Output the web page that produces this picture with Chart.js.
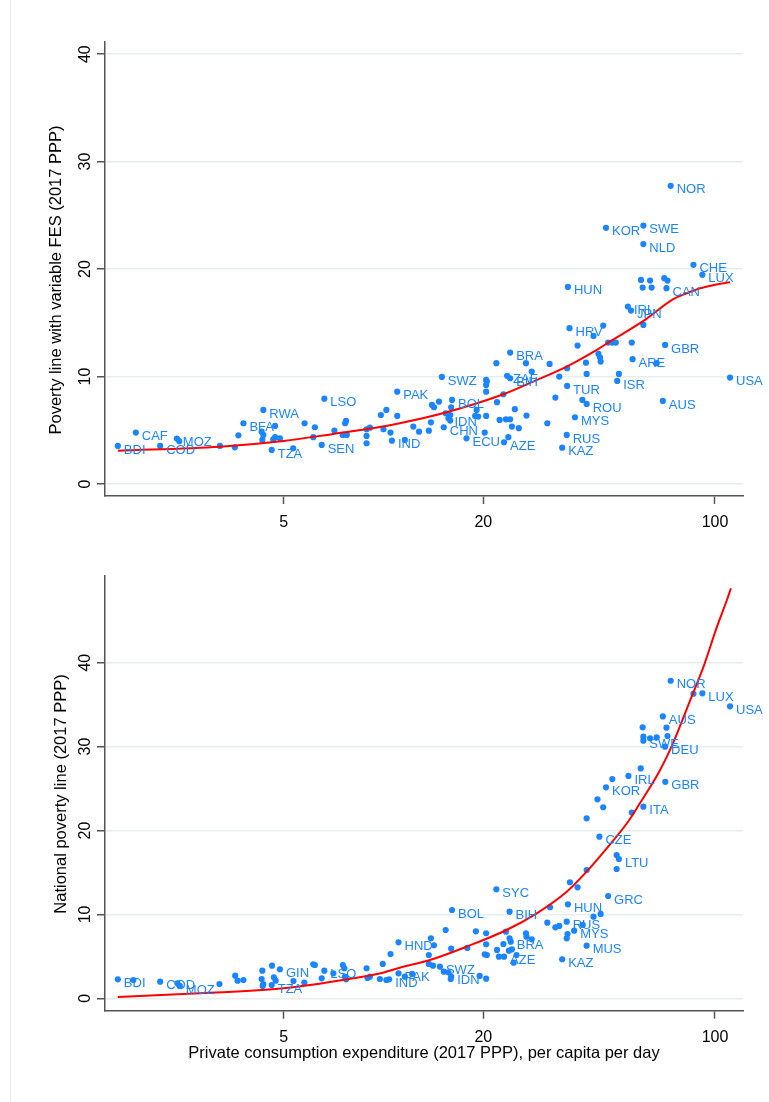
<!DOCTYPE html>
<html><head><meta charset="utf-8">
<script src="https://cdn.jsdelivr.net/npm/chart.js@4.4.1/dist/chart.umd.min.js"></script>
<style>
html,body{margin:0;padding:0;background:#fff;}
#wrap{position:relative;width:769px;height:1102px;overflow:hidden;background:#fff;}
#c1{position:absolute;left:0;top:0;}
#c2{position:absolute;left:0;top:550px;}
#edge{position:absolute;left:10px;top:0;width:1px;height:1102px;background:#ececec;}
</style></head><body>
<div id="wrap"><div id="edge"></div>
<canvas id="c1" width="769" height="550"></canvas>
<canvas id="c2" width="769" height="552"></canvas>
</div>
<script>
// ---- tick labels ----
const xTicks = [5, 20, 100];
const yTicks = [0, 10, 20, 30, 40];

// ---- top panel: poverty line with variable FES ----
const topCodes = ['BDI','CAF','COD','MOZ','','','','','BFA','RWA','','','','','','','','TZA','','','','','SEN','LSO','','','','','','','','','','','','','','IND','PAK','','','','','','','','','','CHN','','','IDN','','BOL','','SWZ','','','','','ECU','','','','','','','','','','','','ZAF','BIH','BRA','','','','AZE','','','','','','','','','','TUR','RUS','KAZ','HRV','MYS','','','ROU','','','','','','','','','','','ISR','','','ARE','','','GBR','AUS','USA','IRL','JPN','NOR','KOR','SWE','NLD','CHE','LUX','','','','','','','CAN','HUN'];
const topX = [1.58,1.79,2.12,2.38,2.42,3.21,3.56,3.65,3.78,4.34,4.29,4.34,4.31,4.71,4.65,4.71,4.87,4.60,5.34,5.78,6.21,6.14,6.51,6.63,7.11,7.53,7.75,7.66,7.71,8.89,9.10,8.89,8.89,9.82,10.2,10.0,10.5,10.6,11.0,11.0,11.6,12.3,12.8,13.7,13.9,14.0,14.2,14.7,15.2,15.4,15.9,15.7,15.9,16.1,16.0,15.0,19.1,18.9,19.3,20.4,17.8,20.2,20.4,20.5,20.4,20.4,21.9,22.0,22.4,23.0,23.4,24.1,23.6,24.1,24.1,24.4,24.9,23.8,23.1,25.6,26.9,27.0,28.0,31.2,31.7,33.0,33.9,35.8,35.8,35.7,34.6,36.4,37.8,38.5,39.8,41.0,40.8,41.0,43.0,44.5,45.0,45.2,46.0,47.6,49.0,50.2,50.7,51.3,56.1,56.4,60.8,66.7,70.7,69.6,111,54.6,55.8,73.5,46.9,60.8,60.8,86.1,91.6,59.8,63.7,60.5,64.4,70.3,71.9,71.4,36.0];
const topY = [3.54,4.78,3.54,4.22,3.98,3.54,3.41,4.53,5.65,6.89,4.87,4.56,4.10,5.40,4.16,4.35,4.25,3.17,3.32,5.65,5.28,4.35,3.63,7.94,4.96,4.56,4.56,5.65,5.87,5.09,5.24,4.47,3.79,6.42,6.89,5.09,4.78,4.03,8.59,6.33,4.10,5.34,4.87,4.96,5.74,7.36,7.14,7.66,5.28,6.58,6.42,6.12,5.90,7.82,7.14,9.96,6.89,6.33,6.27,6.33,4.25,4.78,9.68,9.53,9.22,8.59,11.24,7.61,5.96,8.35,6.02,6.02,10.06,9.84,12.23,5.34,6.96,4.35,3.88,5.19,11.24,6.36,10.46,5.65,11.17,8.04,9.99,10.77,9.12,4.56,3.38,14.5,6.21,12.88,7.82,7.45,11.29,10.24,13.78,12.10,11.76,11.39,14.74,13.16,13.16,13.16,9.59,10.24,13.16,11.61,14.80,11.24,12.94,7.73,9.90,16.51,16.14,27.75,23.84,24.05,22.32,20.39,19.46,18.99,18.93,18.28,18.28,19.15,18.93,18.22,18.34];
const topFitX = [1.58,3.21,5.0,7.06,9.76,11.2,15.1,23.0,28.3,35.7,44.0,48.2,61.5,74.8,82.2,90.2,100.0,111];
const topFitY = [3.10,3.47,4.00,4.66,5.30,5.65,6.58,8.35,9.53,10.92,12.48,13.25,15.27,17.20,17.75,18.22,18.53,18.78];

// ---- bottom panel: national poverty line ----
const botCodes = ['BDI','','COD','','MOZ','','','','','','','GIN','','','','','','TZA','','','','','','LSO','','','','','','','','','','IND','','','','HND','PAK','','','','','','','','','SWZ','','','IDN','','','BOL','','','','','','','','','SYC','BIH','','','','','AZE','','BRA','','','','','','','','','','','','HUN','','','','RUS','','','MYS','','','','MUS','KAZ','GRC','CZE','','LTU','','','NOR','','LUX','USA','AUS','','','','SWE','','','','DEU','','IRL','','KOR','GBR','ITA','','',''];
const botX = [1.58,1.76,2.12,2.39,2.43,3.20,3.57,3.63,3.78,4.31,4.61,4.87,4.29,4.34,4.32,4.67,4.73,4.60,5.35,5.77,6.14,6.21,6.51,6.63,7.06,7.54,7.62,7.65,7.71,8.89,8.95,9.10,9.75,10.4,10.2,9.95,10.5,11.1,11.1,11.6,12.2,13.7,13.7,14.1,13.9,14.2,15.4,14.8,15.2,15.7,16.0,15.95,16.0,16.1,17.9,19.0,19.5,20.4,20.4,20.4,20.2,20.5,21.9,24.0,22.0,23.0,23.4,22.3,23.1,24.0,24.2,24.4,23.9,26.9,27.0,28.0,24.7,25.2,31.8,31.2,33.0,33.9,36.0,36.5,38.5,41.0,35.7,35.9,35.7,37.6,39.9,43.0,45.2,41.0,34.6,47.6,44.8,50.5,51.3,50.5,41.0,73.5,86.1,91.6,111,69.6,60.5,71.4,60.8,60.8,63.7,66.7,71.9,70.7,59.7,54.8,49.0,46.9,70.8,60.8,56.1,44.2,46.0];
const botY = [2.26,2.18,1.98,1.79,1.47,1.70,2.69,2.10,2.18,3.29,3.89,3.46,2.30,1.70,1.47,2.50,2.10,1.58,2.06,1.86,4.05,3.97,2.38,3.29,2.98,3.97,3.58,2.57,2.26,3.58,2.42,2.57,2.30,2.26,2.18,4.09,5.28,6.67,2.98,2.57,2.90,5.16,4.09,3.89,7.15,6.32,8.14,3.77,3.17,3.10,2.58,2.30,5.91,10.52,6.00,7.98,2.66,2.34,7.75,6.44,5.24,5.16,12.99,10.32,5.76,6.47,7.94,4.96,4.96,7.15,6.75,5.84,5.67,7.75,7.34,7.03,4.24,5.16,10.85,9.01,8.46,8.62,11.2,13.83,13.23,15.29,9.13,7.66,7.15,8.06,8.74,9.73,10.05,6.27,4.65,12.19,19.26,17.08,16.6,15.41,21.45,37.85,36.3,36.35,34.8,33.6,32.3,32.25,31.18,30.7,30.99,31.1,31.26,29.99,27.4,26.5,26.14,25.15,25.8,22.84,22.13,23.72,22.77];
const botFitX = [1.58,2.79,5.0,8.89,9.74,11.2,13.8,17.8,23.5,29.0,35.7,41.0,47.2,54.8,59.5,68.3,74.9,84.2,92.3,101.4,108.7,111.7];
const botFitY = [0.15,0.60,1.19,2.65,2.95,3.65,4.56,6.15,8.14,10.13,12.7,15.1,17.9,21.1,23.3,27.2,30.5,35.55,39.5,44.3,47.5,48.87];

// ---- styling ----
const BLUE = '#1a85ff';
const AX = '#555555';
const GRID = 'rgb(229,237,240)';
const FONT = '"Liberation Sans", Arial, Helvetica, sans-serif';
const XMIN = 1.4451, XMAX = 121.47;

function textPlugin(cfg){
  return {id:'txt', afterDraw(chart){
    const ctx = chart.ctx, xs = chart.scales.x, ys = chart.scales.y;
    ctx.save();
    const meta = chart.getDatasetMeta(1);
    ctx.fillStyle = BLUE; ctx.font = '13px ' + FONT;
    ctx.textAlign = 'left'; ctx.textBaseline = 'alphabetic';
    meta.data.forEach((el, i) => { const c = cfg.codes[i]; if (c) ctx.fillText(c, el.x + 6, el.y + 7.6); });
    ctx.fillStyle = '#000'; ctx.font = '16px ' + FONT; ctx.textAlign = 'center';
    yTicks.forEach(v => {
      const py = ys.getPixelForValue(v);
      ctx.save(); ctx.translate(89.5, py); ctx.rotate(-Math.PI/2); ctx.fillText(String(v), 0, 0); ctx.restore();
    });
    xTicks.forEach(v => ctx.fillText(String(v), xs.getPixelForValue(v), cfg.xTickBase));
    ctx.font = '16.5px ' + FONT;
    ctx.save(); ctx.translate(cfg.yTitleX, cfg.yTitleY); ctx.rotate(-Math.PI/2); ctx.fillText(cfg.yTitle, 0, 0); ctx.restore();
    if (cfg.xTitle) ctx.fillText(cfg.xTitle, (xs.left + xs.right)/2, cfg.xTitleBase);
    ctx.restore();
  }};
}

function makeChart(id, cfg){
  const pts = cfg.xs.map((x, i) => ({x: x, y: cfg.ys[i]}));
  const fit = cfg.fx.map((x, i) => ({x: x, y: cfg.fy[i]}));
  return new Chart(document.getElementById(id), {
    type: 'scatter',
    data: {datasets: [
      {type: 'line', data: fit, borderColor: '#ff0000', borderWidth: 2, pointRadius: 0, showLine: true,
       cubicInterpolationMode: 'monotone', fill: false, order: 0},
      {data: pts, backgroundColor: BLUE, borderColor: BLUE, borderWidth: 0, pointRadius: 3.1, pointHoverRadius: 3.1, order: 1}
    ]},
    options: {
      responsive: false, animation: false, devicePixelRatio: 1, events: [],
      layout: {padding: {top: cfg.top, right: 26, left: 0, bottom: 0}},
      plugins: {legend: {display: false}, tooltip: {enabled: false}},
      scales: {
        x: {type: 'logarithmic', min: XMIN, max: XMAX, position: 'bottom',
            afterBuildTicks: s => { s.ticks = xTicks.map(v => ({value: v})); },
            afterFit: s => { s.height = cfg.xh; },
            ticks: {display: false},
            grid: {drawOnChartArea: false, drawTicks: true, tickLength: 8, tickColor: AX, tickWidth: 1.5, color: AX},
            border: {display: true, color: AX, width: 1.5}},
        y: {type: 'linear', min: cfg.ymin, max: cfg.ymax, position: 'left',
            afterBuildTicks: s => { s.ticks = yTicks.map(v => ({value: v})); },
            afterFit: s => { s.width = 105; },
            ticks: {display: false},
            grid: {color: GRID, lineWidth: 1.5, drawTicks: true, tickLength: 8, tickColor: AX, tickWidth: 1.5},
            border: {display: true, color: AX, width: 1.5}}
      }
    },
    plugins: [textPlugin(cfg)]
  });
}

makeChart('c1', {codes: topCodes, xs: topX, ys: topY, fx: topFitX, fy: topFitY,
  top: 42, xh: 54, ymin: -1.12, ymax: 41.13, xTickBase: 527,
  yTitle: 'Poverty line with variable FES (2017 PPP)', yTitleX: 61, yTitleY: 280});
makeChart('c2', {codes: botCodes, xs: botX, ys: botY, fx: botFitX, fy: botFitY,
  top: 25.7, xh: 91.3, ymin: -1.48, ymax: 50.37, xTickBase: 492,
  yTitle: 'National poverty line (2017 PPP)', yTitleX: 65.5, yTitleY: 244,
  xTitle: 'Private consumption expenditure (2017 PPP), per capita per day', xTitleBase: 508});
</script>
</body></html>
